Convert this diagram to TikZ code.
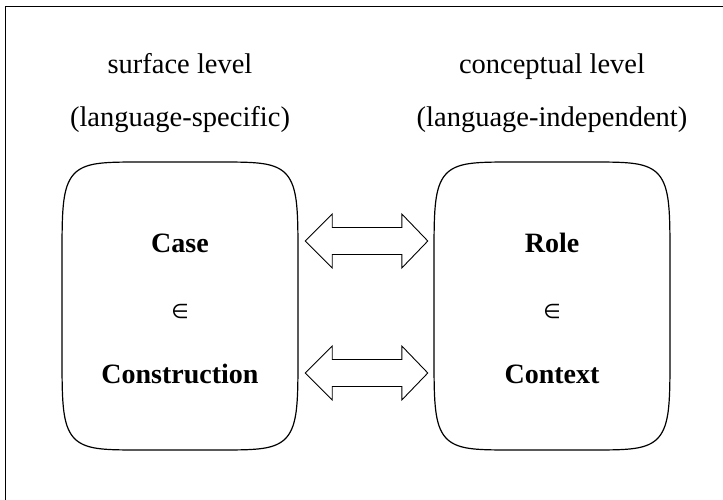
\documentclass[tikz,border=0pt]{standalone}
\usepackage{fontspec}
\setmainfont{Liberation Serif}
\newfontfamily\symbfont{DejaVu Sans}
\usetikzlibrary{calc}
\newcommand\fatarrow[2]{%
  \draw[fat] (#1) -- ($(#1)+(27,-27)$) -- ($(#1)+(27,-13.5)$) -- ($(#2)+(-26,-13.5)$)
    -- ($(#2)+(-26,-27)$) -- (#2) -- ($(#2)+(-26,27)$) -- ($(#2)+(-26,13.5)$)
    -- ($(#1)+(27,13.5)$) -- ($(#1)+(27,27)$) -- cycle;}
\newcommand\blobshape[1]{%
  \draw[blob] let \p1=(#1.center) in
    plot[domain=1:361, samples=181, variable=\t]
    ({\x1+118*sign(cos(\t))*abs(cos(\t))^(0.28)},
     {\y1+144*sign(sin(\t))*abs(sin(\t))^(0.28)}) -- cycle;}
\begin{document}
\begin{tikzpicture}[x=1pt,y=-1pt,
  lbl/.style={font=\fontsize{28.5}{34}\selectfont, anchor=base, inner sep=0},
  term/.style={font=\fontsize{28}{34}\selectfont\bfseries, anchor=base, inner sep=0},
  elem/.style={font=\symbfont\fontsize{20}{24}\selectfont, inner sep=0},
  holder/.style={draw=none, minimum width=236, minimum height=288, inner sep=0},
  blob/.style={line width=1.2pt},
  fat/.style={line width=0.9pt, fill=white, line join=miter}]
\useasboundingbox (0,0) rectangle (723,500);
\draw[line width=1.2pt] (5.5,500) -- (5.5,6.5) -- (723,6.5);

\node[holder] (L) at (180,306) {};
\node[holder] (R) at (552,306) {};
\blobshape{L}
\blobshape{R}

\node[lbl] (s1) at (180,74) {surface level};
\node[lbl] (s2) at (180,127) {(language-specific)};
\node[lbl] (c1) at (552,74) {conceptual level};
\node[lbl] (c2) at (552,127) {(language-independent)};

\node[term] (case) at (180,252) {Case};
\node[elem] (in1) at (180,311) {∈};
\node[term] (cons) at (180,383) {Construction};
\node[term] (role) at (552,252) {Role};
\node[elem] (in2) at (552,311) {∈};
\node[term] (ctx) at (552,383) {Context};

\coordinate (u1) at ([xshift=7pt,yshift=65pt]L.east);
\coordinate (u2) at ([xshift=-6pt,yshift=65pt]R.west);
\coordinate (d1) at ([xshift=7pt,yshift=-67pt]L.east);
\coordinate (d2) at ([xshift=-6pt,yshift=-67pt]R.west);
\fatarrow{u1}{u2}
\fatarrow{d1}{d2}
\end{tikzpicture}
\end{document}
